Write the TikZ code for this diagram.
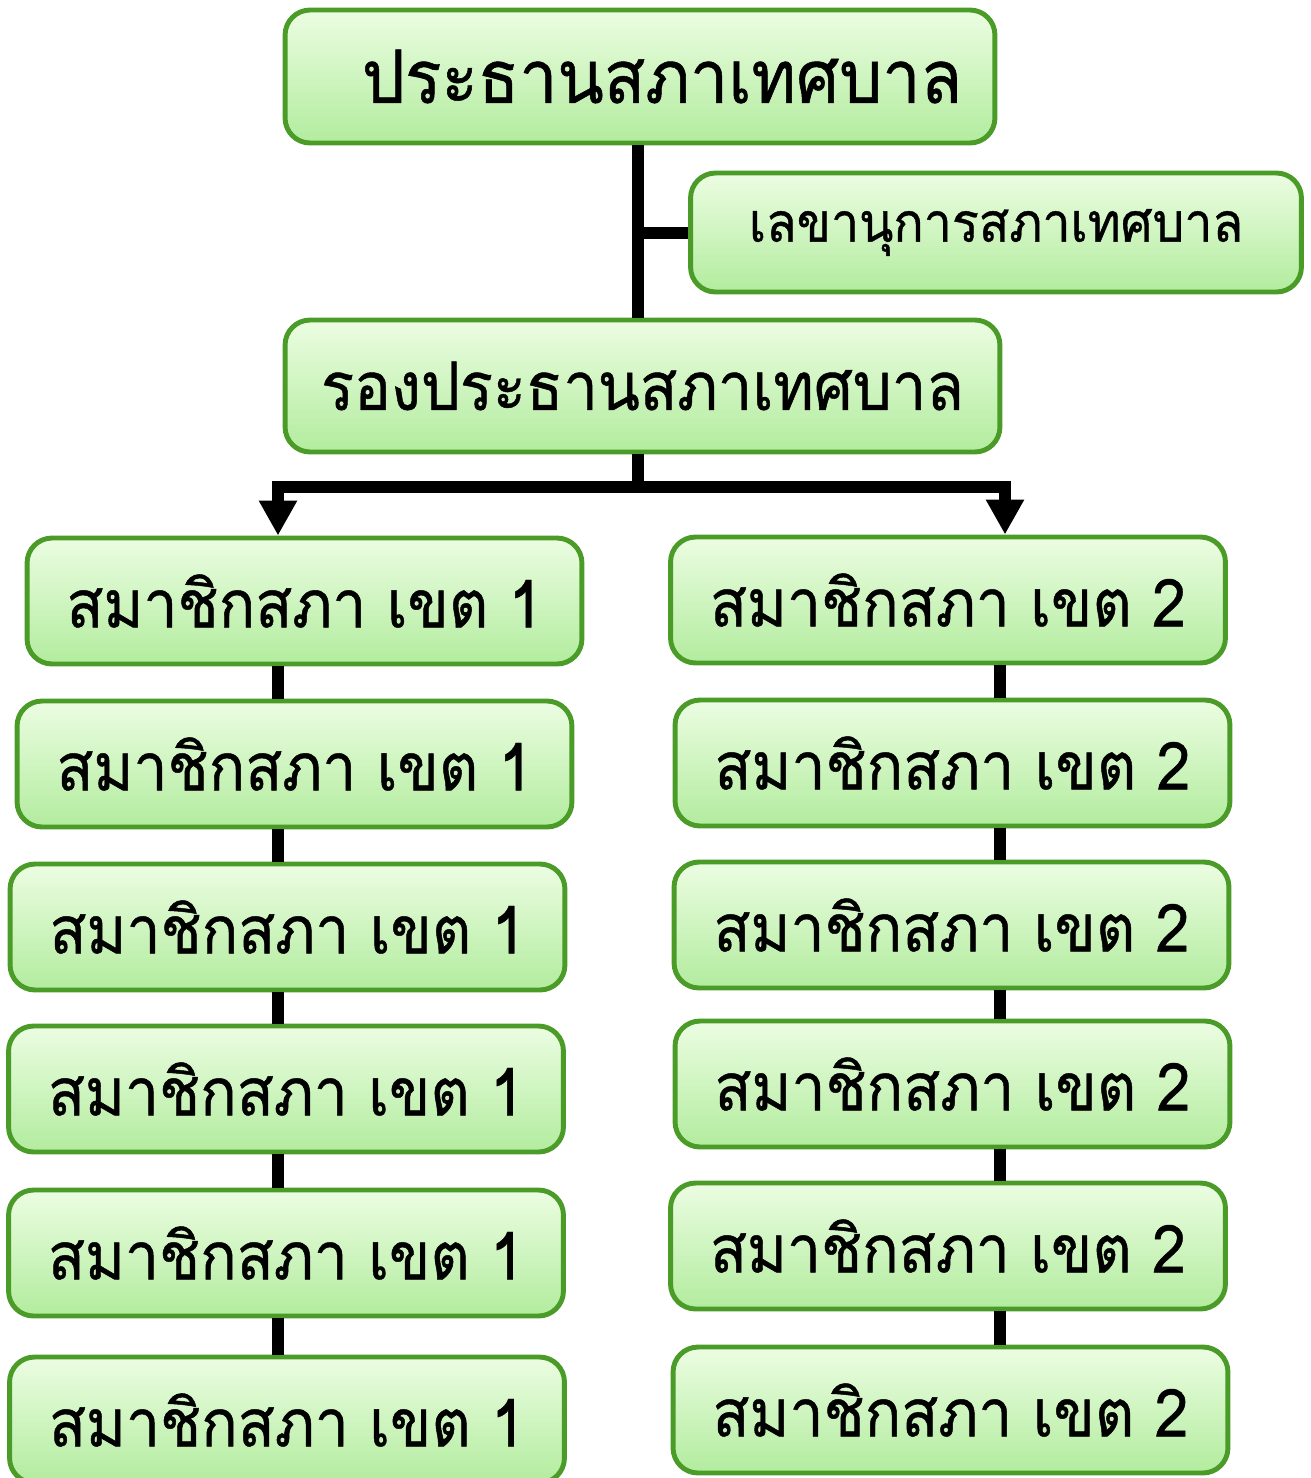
\documentclass[tikz,border=0pt]{standalone}
\usepackage{fontspec}
\newfontfamily\thaifont[Script=Thai, FakeStretch=0.92, FakeBold=0.7]{Loma}
\usetikzlibrary{arrows.meta}
\definecolor{BoxTop}{RGB}{236,253,226}
\definecolor{BoxBottom}{RGB}{178,236,158}
\definecolor{BoxEdge}{RGB}{74,155,40}
\tikzset{
  postbox/.style={rounded corners=0.5cm, draw=BoxEdge, line width=2.8pt,
    top color=BoxTop, bottom color=BoxBottom, text=black, inner sep=0pt},
  memberbox/.style={postbox, minimum width=11.1cm, minimum height=2.52cm,
    font=\thaifont\fontsize{37.5}{45}\selectfont},
  link/.style={line width=0.24cm, black},
}

\begin{document}
\begin{tikzpicture}[x=0.02cm, y=-0.02cm]
  \useasboundingbox (0,0) rectangle (1311,1478);

  % --- top of the council ---
  \node[postbox, minimum width=14.2cm, minimum height=2.66cm,
        font=\thaifont\fontsize{42}{50}\selectfont] (chair) at (640,76.5) {\hspace*{0.88cm}ประธานสภาเทศบาล};
  \node[postbox, minimum width=12.22cm, minimum height=2.38cm,
        font=\thaifont\fontsize{31}{38}\selectfont] (secretary) at (996,232.5) {เลขานุการสภาเทศบาล};
  \node[postbox, minimum width=14.3cm, minimum height=2.64cm,
        font=\thaifont\fontsize{38}{46}\selectfont] (vice) at (642.5,386) {รองประธานสภาเทศบาล};

  % --- members, district 1 and district 2 ---
  \node[memberbox] (L1) at (304.5,601) {สมาชิกสภา เขต 1};
  \node[memberbox] (L2) at (294.5,764) {สมาชิกสภา เขต 1};
  \node[memberbox] (L3) at (287.5,927) {สมาชิกสภา เขต 1};
  \node[memberbox] (L4) at (286,1089) {สมาชิกสภา เขต 1};
  \node[memberbox] (L5) at (286,1253) {สมาชิกสภา เขต 1};
  \node[memberbox] (L6) at (287,1420) {สมาชิกสภา เขต 1};

  \node[memberbox] (R1) at (948,600) {สมาชิกสภา เขต 2};
  \node[memberbox] (R2) at (952.5,763) {สมาชิกสภา เขต 2};
  \node[memberbox] (R3) at (951.5,925) {สมาชิกสภา เขต 2};
  \node[memberbox] (R4) at (952.5,1084) {สมาชิกสภา เขต 2};
  \node[memberbox] (R5) at (948,1246) {สมาชิกสภา เขต 2};
  \node[memberbox] (R6) at (950.5,1410) {สมาชิกสภา เขต 2};

  % --- connectors ---
  \coordinate (trunk) at (638,0);
  \coordinate (fork) at (638,487);
  \coordinate (leftline) at (278,0);
  \coordinate (rightline) at (1000,0);
  \coordinate (rightarrow) at (1005,0);

  \draw[link] (chair.south -| trunk) -- (vice.north -| trunk);
  \draw[link] (trunk |- secretary.west) -- (secretary.west);
  \draw[link] (vice.south -| trunk) -- (fork);
  \draw[link, -{Triangle[width=0.72cm, length=0.7cm]}] (fork) -| (L1.north -| leftline);
  \draw[link, -{Triangle[width=0.72cm, length=0.7cm]}] (fork) -| (R1.north -| rightarrow);

  \foreach \a/\b in {L1/L2, L2/L3, L3/L4, L4/L5, L5/L6} {
    \draw[link] (\a.south -| leftline) -- (\b.north -| leftline);
  }
  \foreach \a/\b in {R1/R2, R2/R3, R3/R4, R4/R5, R5/R6} {
    \draw[link] (\a.south -| rightline) -- (\b.north -| rightline);
  }
\end{tikzpicture}
\end{document}
